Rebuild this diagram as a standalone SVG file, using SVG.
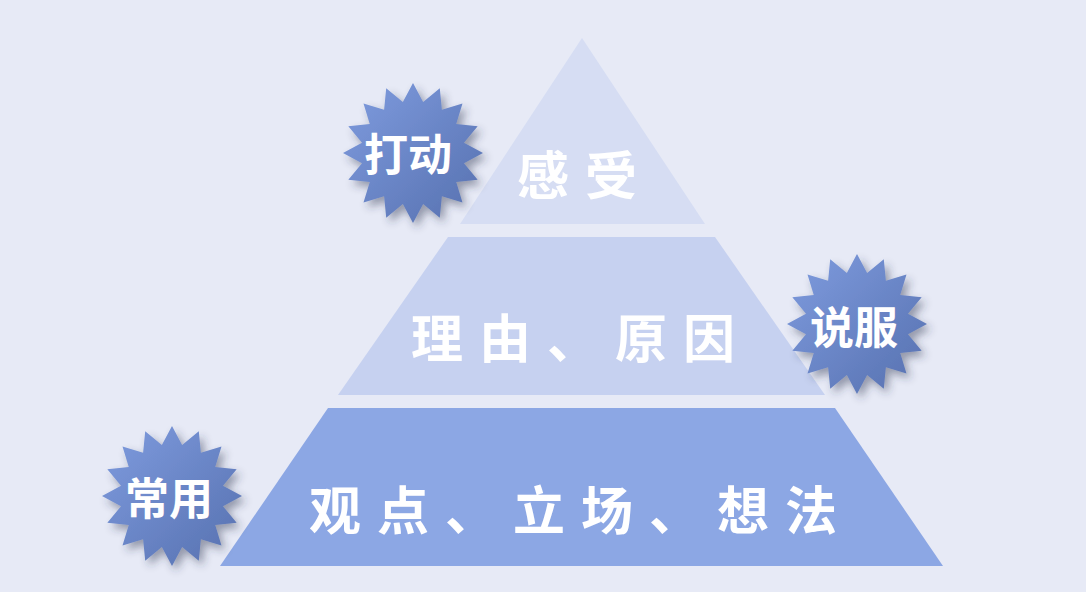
<svg xmlns="http://www.w3.org/2000/svg" xmlns:xlink="http://www.w3.org/1999/xlink" width="1086" height="592" viewBox="0 0 1086 592">
<defs>
<linearGradient id="starGrad" x1="0" y1="0" x2="1" y2="1">
<stop offset="0" stop-color="#7f9cdf"/>
<stop offset="1" stop-color="#5670af"/>
</linearGradient>
<filter id="shadow" x="-30%" y="-30%" width="160%" height="160%">
<feDropShadow dx="4" dy="5" stdDeviation="4" flood-color="#2a3350" flood-opacity="0.45"/>
</filter>
<polygon id="star" points="0,-70 10.14,-51 26.79,-64.67 28.89,-43.24 49.5,-49.5 43.24,-28.89 64.67,-26.79 51,-10.14 70,0 51,10.14 64.67,26.79 43.24,28.89 49.5,49.5 28.89,43.24 26.79,64.67 10.14,51 0,70 -10.14,51 -26.79,64.67 -28.89,43.24 -49.5,49.5 -43.24,28.89 -64.67,26.79 -51,10.14 -70,0 -51,-10.14 -64.67,-26.79 -43.24,-28.89 -49.5,-49.5 -28.89,-43.24 -26.79,-64.67 -10.14,-51"/>
</defs>
<style>
.lvl { font-family: "Noto Sans CJK SC", "Noto Sans", sans-serif; font-weight: 700; fill: #ffffff; }
.badge { font-family: "Noto Sans CJK SC", "Noto Sans", sans-serif; font-weight: 700; fill: #ffffff; font-size: 44px; text-anchor: middle; }
.star { fill: url(#starGrad); filter: url(#shadow); }
</style>
<rect x="0" y="0" width="1086" height="592" fill="#e7eaf6"/>

<g id="level-top">
<polygon points="582,38 705,224 460,224" fill="#d6ddf3"/>
<text class="lvl" x="517" y="195" font-size="52" letter-spacing="16">感受</text>
</g>
<g id="level-middle">
<polygon points="448,237 715,237 825,395 338,395" fill="#c6d1f0"/>
<text class="lvl" x="411" y="358" font-size="52" letter-spacing="16">理由、原因</text>
</g>
<g id="level-bottom">
<polygon points="328,408 835,408 943,566 220,566" fill="#8ca7e4"/>
<text class="lvl" x="309" y="530" font-size="52" letter-spacing="16">观点、立场、想法</text>
</g>

<g id="badge-move">
<use xlink:href="#star" class="star" transform="translate(413,153)"/>
<text class="badge" x="408" y="171">打动</text>
</g>
<g id="badge-persuade">
<use xlink:href="#star" class="star" transform="translate(857,324)"/>
<text class="badge" x="854" y="344">说服</text>
</g>
<g id="badge-common">
<use xlink:href="#star" class="star" transform="translate(172,496)"/>
<text class="badge" x="169" y="515">常用</text>
</g>

<g id="connectors"></g>
</svg>
